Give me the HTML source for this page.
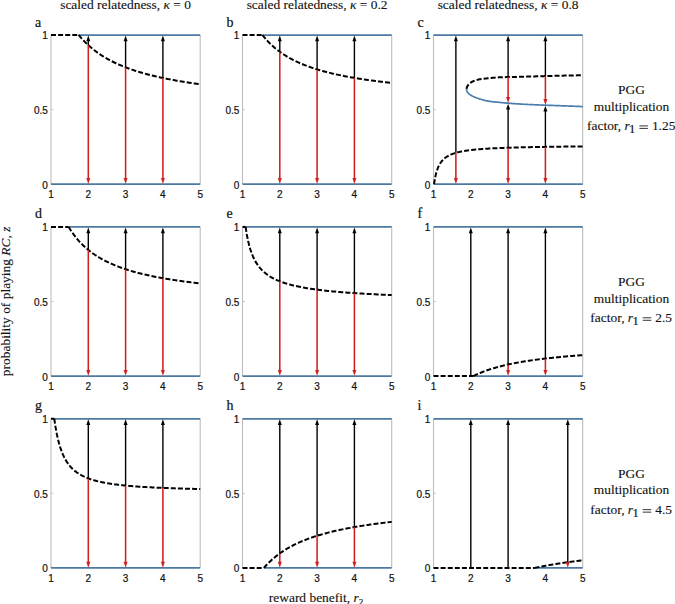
<!DOCTYPE html>
<html><head><meta charset="utf-8"><style>
html,body{margin:0;padding:0;background:#fff;}
body{width:675px;height:604px;overflow:hidden;}
svg{display:block;}
.tk{font-family:"Liberation Sans",sans-serif;font-size:10px;fill:#111;stroke:#111;stroke-width:0.2px;}
.tt{font-family:"Liberation Serif",serif;font-size:13.45px;fill:#111;stroke:#111;stroke-width:0.12px;}
.lt{font-family:"Liberation Serif",serif;font-size:14px;fill:#111;stroke:#111;stroke-width:0.2px;}
</style></head><body>
<svg width="675" height="604" viewBox="0 0 675 604">
<line x1="51.00" y1="35.00" x2="51.00" y2="184.20" stroke="#bdbdbd" stroke-width="1.1" stroke-linecap="butt"/>
<line x1="200.20" y1="35.00" x2="200.20" y2="184.20" stroke="#bdbdbd" stroke-width="1.1" stroke-linecap="butt"/>
<line x1="51.00" y1="109.60" x2="53.50" y2="109.60" stroke="#bbb" stroke-width="0.8" stroke-linecap="butt"/>
<line x1="51.00" y1="184.20" x2="200.20" y2="184.20" stroke="#4c78a2" stroke-width="1.75" stroke-linecap="butt"/>
<line x1="78.66" y1="35.00" x2="200.20" y2="35.00" stroke="#4c78a2" stroke-width="1.75" stroke-linecap="butt"/>
<line x1="51.00" y1="35.00" x2="78.66" y2="35.00" stroke="#000" stroke-width="2.0" stroke-dasharray="5.0 2.1" stroke-linecap="butt"/>
<path d="M78.66,35.00 L79.68,36.23 L80.70,37.43 L81.72,38.58 L82.75,39.70 L83.77,40.78 L84.79,41.83 L85.81,42.85 L86.83,43.83 L87.85,44.79 L88.87,45.72 L89.89,46.62 L90.92,47.50 L91.94,48.35 L92.96,49.18 L93.98,49.99 L95.00,50.77 L96.02,51.54 L97.04,52.28 L98.07,53.00 L99.09,53.71 L100.11,54.40 L101.13,55.07 L102.15,55.73 L103.17,56.37 L104.19,56.99 L105.22,57.60 L106.24,58.19 L107.26,58.77 L108.28,59.34 L109.30,59.90 L110.32,60.44 L111.34,60.97 L112.36,61.49 L113.39,62.00 L114.41,62.49 L115.43,62.98 L116.45,63.46 L117.47,63.92 L118.49,64.38 L119.51,64.83 L120.54,65.27 L121.56,65.70 L122.58,66.12 L123.60,66.53 L124.62,66.94 L125.64,67.33 L126.66,67.72 L127.68,68.11 L128.71,68.48 L129.73,68.85 L130.75,69.21 L131.77,69.57 L132.79,69.92 L133.81,70.26 L134.83,70.60 L135.86,70.93 L136.88,71.25 L137.90,71.57 L138.92,71.89 L139.94,72.19 L140.96,72.50 L141.98,72.80 L143.00,73.09 L144.03,73.38 L145.05,73.66 L146.07,73.94 L147.09,74.22 L148.11,74.49 L149.13,74.76 L150.15,75.02 L151.18,75.28 L152.20,75.53 L153.22,75.78 L154.24,76.03 L155.26,76.27 L156.28,76.51 L157.30,76.75 L158.32,76.98 L159.35,77.21 L160.37,77.44 L161.39,77.66 L162.41,77.88 L163.43,78.09 L164.45,78.31 L165.47,78.52 L166.50,78.72 L167.52,78.93 L168.54,79.13 L169.56,79.33 L170.58,79.53 L171.60,79.72 L172.62,79.91 L173.65,80.10 L174.67,80.29 L175.69,80.47 L176.71,80.65 L177.73,80.83 L178.75,81.01 L179.77,81.18 L180.79,81.35 L181.82,81.52 L182.84,81.69 L183.86,81.86 L184.88,82.02 L185.90,82.18 L186.92,82.34 L187.94,82.50 L188.97,82.66 L189.99,82.81 L191.01,82.96 L192.03,83.11 L193.05,83.26 L194.07,83.41 L195.09,83.56 L196.11,83.70 L197.14,83.84 L198.16,83.98 L199.18,84.12 L200.20,84.26" fill="none" stroke="#000" stroke-width="2.0" stroke-dasharray="5.0 2.1" stroke-linejoin="round"/>
<line x1="88.30" y1="45.20" x2="88.30" y2="178.90" stroke="#d02020" stroke-width="1.55" stroke-linecap="butt"/>
<path d="M88.30,183.90 L86.30,178.10 L90.30,178.10 Z" fill="#d02020"/>
<line x1="88.30" y1="45.20" x2="88.30" y2="40.50" stroke="#000" stroke-width="1.4" stroke-linecap="butt"/>
<path d="M88.30,35.50 L86.30,41.30 L90.30,41.30 Z" fill="#000"/>
<line x1="125.60" y1="67.32" x2="125.60" y2="178.90" stroke="#d02020" stroke-width="1.55" stroke-linecap="butt"/>
<path d="M125.60,183.90 L123.60,178.10 L127.60,178.10 Z" fill="#d02020"/>
<line x1="125.60" y1="67.32" x2="125.60" y2="40.50" stroke="#000" stroke-width="1.4" stroke-linecap="butt"/>
<path d="M125.60,35.50 L123.60,41.30 L127.60,41.30 Z" fill="#000"/>
<line x1="162.90" y1="77.98" x2="162.90" y2="178.90" stroke="#d02020" stroke-width="1.55" stroke-linecap="butt"/>
<path d="M162.90,183.90 L160.90,178.10 L164.90,178.10 Z" fill="#d02020"/>
<line x1="162.90" y1="77.98" x2="162.90" y2="40.50" stroke="#000" stroke-width="1.4" stroke-linecap="butt"/>
<path d="M162.90,35.50 L160.90,41.30 L164.90,41.30 Z" fill="#000"/>
<line x1="242.50" y1="35.00" x2="242.50" y2="184.20" stroke="#bdbdbd" stroke-width="1.1" stroke-linecap="butt"/>
<line x1="391.70" y1="35.00" x2="391.70" y2="184.20" stroke="#bdbdbd" stroke-width="1.1" stroke-linecap="butt"/>
<line x1="242.50" y1="109.60" x2="245.00" y2="109.60" stroke="#bbb" stroke-width="0.8" stroke-linecap="butt"/>
<line x1="242.50" y1="184.20" x2="391.70" y2="184.20" stroke="#4c78a2" stroke-width="1.75" stroke-linecap="butt"/>
<line x1="262.43" y1="35.00" x2="391.70" y2="35.00" stroke="#4c78a2" stroke-width="1.75" stroke-linecap="butt"/>
<line x1="242.50" y1="35.00" x2="262.43" y2="35.00" stroke="#000" stroke-width="2.0" stroke-dasharray="5.0 2.1" stroke-linecap="butt"/>
<path d="M262.43,35.00 L263.51,36.37 L264.60,37.69 L265.69,38.96 L266.77,40.17 L267.86,41.34 L268.95,42.47 L270.03,43.56 L271.12,44.61 L272.20,45.62 L273.29,46.59 L274.38,47.54 L275.46,48.45 L276.55,49.33 L277.64,50.18 L278.72,51.01 L279.81,51.81 L280.90,52.58 L281.98,53.34 L283.07,54.07 L284.15,54.77 L285.24,55.46 L286.33,56.13 L287.41,56.78 L288.50,57.41 L289.59,58.02 L290.67,58.62 L291.76,59.20 L292.85,59.77 L293.93,60.32 L295.02,60.86 L296.10,61.38 L297.19,61.89 L298.28,62.39 L299.36,62.88 L300.45,63.35 L301.54,63.81 L302.62,64.26 L303.71,64.71 L304.79,65.14 L305.88,65.56 L306.97,65.97 L308.05,66.37 L309.14,66.77 L310.23,67.15 L311.31,67.53 L312.40,67.90 L313.49,68.26 L314.57,68.61 L315.66,68.96 L316.74,69.30 L317.83,69.63 L318.92,69.96 L320.00,70.28 L321.09,70.59 L322.18,70.90 L323.26,71.20 L324.35,71.49 L325.43,71.78 L326.52,72.07 L327.61,72.35 L328.69,72.62 L329.78,72.89 L330.87,73.15 L331.95,73.41 L333.04,73.67 L334.13,73.92 L335.21,74.16 L336.30,74.41 L337.38,74.64 L338.47,74.88 L339.56,75.11 L340.64,75.33 L341.73,75.56 L342.82,75.77 L343.90,75.99 L344.99,76.20 L346.07,76.41 L347.16,76.61 L348.25,76.82 L349.33,77.01 L350.42,77.21 L351.51,77.40 L352.59,77.59 L353.68,77.78 L354.77,77.96 L355.85,78.14 L356.94,78.32 L358.02,78.50 L359.11,78.67 L360.20,78.84 L361.28,79.01 L362.37,79.17 L363.46,79.34 L364.54,79.50 L365.63,79.66 L366.71,79.81 L367.80,79.97 L368.89,80.12 L369.97,80.27 L371.06,80.42 L372.15,80.57 L373.23,80.71 L374.32,80.85 L375.41,80.99 L376.49,81.13 L377.58,81.27 L378.66,81.40 L379.75,81.54 L380.84,81.67 L381.92,81.80 L383.01,81.93 L384.10,82.05 L385.18,82.18 L386.27,82.30 L387.35,82.42 L388.44,82.55 L389.53,82.66 L390.61,82.78 L391.70,82.90" fill="none" stroke="#000" stroke-width="2.0" stroke-dasharray="5.0 2.1" stroke-linejoin="round"/>
<line x1="279.80" y1="51.80" x2="279.80" y2="178.90" stroke="#d02020" stroke-width="1.55" stroke-linecap="butt"/>
<path d="M279.80,183.90 L277.80,178.10 L281.80,178.10 Z" fill="#d02020"/>
<line x1="279.80" y1="51.80" x2="279.80" y2="40.50" stroke="#000" stroke-width="1.4" stroke-linecap="butt"/>
<path d="M279.80,35.50 L277.80,41.30 L281.80,41.30 Z" fill="#000"/>
<line x1="317.10" y1="69.41" x2="317.10" y2="178.90" stroke="#d02020" stroke-width="1.55" stroke-linecap="butt"/>
<path d="M317.10,183.90 L315.10,178.10 L319.10,178.10 Z" fill="#d02020"/>
<line x1="317.10" y1="69.41" x2="317.10" y2="40.50" stroke="#000" stroke-width="1.4" stroke-linecap="butt"/>
<path d="M317.10,35.50 L315.10,41.30 L319.10,41.30 Z" fill="#000"/>
<line x1="354.40" y1="77.90" x2="354.40" y2="178.90" stroke="#d02020" stroke-width="1.55" stroke-linecap="butt"/>
<path d="M354.40,183.90 L352.40,178.10 L356.40,178.10 Z" fill="#d02020"/>
<line x1="354.40" y1="77.90" x2="354.40" y2="40.50" stroke="#000" stroke-width="1.4" stroke-linecap="butt"/>
<path d="M354.40,35.50 L352.40,41.30 L356.40,41.30 Z" fill="#000"/>
<line x1="51.00" y1="226.90" x2="51.00" y2="376.10" stroke="#bdbdbd" stroke-width="1.1" stroke-linecap="butt"/>
<line x1="200.20" y1="226.90" x2="200.20" y2="376.10" stroke="#bdbdbd" stroke-width="1.1" stroke-linecap="butt"/>
<line x1="51.00" y1="301.50" x2="53.50" y2="301.50" stroke="#bbb" stroke-width="0.8" stroke-linecap="butt"/>
<line x1="51.00" y1="376.10" x2="200.20" y2="376.10" stroke="#4c78a2" stroke-width="1.75" stroke-linecap="butt"/>
<line x1="68.64" y1="226.90" x2="200.20" y2="226.90" stroke="#4c78a2" stroke-width="1.75" stroke-linecap="butt"/>
<line x1="51.00" y1="226.90" x2="68.64" y2="226.90" stroke="#000" stroke-width="2.0" stroke-dasharray="5.0 2.1" stroke-linecap="butt"/>
<path d="M68.64,226.90 L69.75,228.71 L70.85,230.44 L71.96,232.09 L73.06,233.66 L74.17,235.17 L75.28,236.61 L76.38,237.99 L77.49,239.31 L78.59,240.59 L79.70,241.81 L80.80,242.98 L81.91,244.11 L83.01,245.20 L84.12,246.25 L85.22,247.26 L86.33,248.24 L87.44,249.18 L88.54,250.09 L89.65,250.97 L90.75,251.82 L91.86,252.65 L92.96,253.45 L94.07,254.22 L95.17,254.97 L96.28,255.69 L97.39,256.40 L98.49,257.08 L99.60,257.74 L100.70,258.39 L101.81,259.02 L102.91,259.62 L104.02,260.22 L105.12,260.79 L106.23,261.35 L107.34,261.90 L108.44,262.43 L109.55,262.95 L110.65,263.46 L111.76,263.95 L112.86,264.43 L113.97,264.90 L115.07,265.35 L116.18,265.80 L117.29,266.24 L118.39,266.66 L119.50,267.08 L120.60,267.49 L121.71,267.88 L122.81,268.27 L123.92,268.65 L125.02,269.02 L126.13,269.39 L127.23,269.74 L128.34,270.09 L129.45,270.43 L130.55,270.77 L131.66,271.09 L132.76,271.42 L133.87,271.73 L134.97,272.04 L136.08,272.34 L137.18,272.64 L138.29,272.93 L139.40,273.21 L140.50,273.49 L141.61,273.77 L142.71,274.03 L143.82,274.30 L144.92,274.56 L146.03,274.81 L147.13,275.06 L148.24,275.31 L149.35,275.55 L150.45,275.79 L151.56,276.02 L152.66,276.25 L153.77,276.48 L154.87,276.70 L155.98,276.92 L157.08,277.13 L158.19,277.34 L159.30,277.55 L160.40,277.75 L161.51,277.95 L162.61,278.15 L163.72,278.34 L164.82,278.54 L165.93,278.72 L167.03,278.91 L168.14,279.09 L169.25,279.27 L170.35,279.45 L171.46,279.62 L172.56,279.80 L173.67,279.97 L174.77,280.13 L175.88,280.30 L176.98,280.46 L178.09,280.62 L179.19,280.78 L180.30,280.93 L181.41,281.09 L182.51,281.24 L183.62,281.39 L184.72,281.53 L185.83,281.68 L186.93,281.82 L188.04,281.96 L189.14,282.10 L190.25,282.24 L191.36,282.37 L192.46,282.51 L193.57,282.64 L194.67,282.77 L195.78,282.90 L196.88,283.03 L197.99,283.15 L199.09,283.27 L200.20,283.40" fill="none" stroke="#000" stroke-width="2.0" stroke-dasharray="5.0 2.1" stroke-linejoin="round"/>
<line x1="88.30" y1="249.90" x2="88.30" y2="370.80" stroke="#d02020" stroke-width="1.55" stroke-linecap="butt"/>
<path d="M88.30,375.80 L86.30,370.00 L90.30,370.00 Z" fill="#d02020"/>
<line x1="88.30" y1="249.90" x2="88.30" y2="232.40" stroke="#000" stroke-width="1.4" stroke-linecap="butt"/>
<path d="M88.30,227.40 L86.30,233.20 L90.30,233.20 Z" fill="#000"/>
<line x1="125.60" y1="269.21" x2="125.60" y2="370.80" stroke="#d02020" stroke-width="1.55" stroke-linecap="butt"/>
<path d="M125.60,375.80 L123.60,370.00 L127.60,370.00 Z" fill="#d02020"/>
<line x1="125.60" y1="269.21" x2="125.60" y2="232.40" stroke="#000" stroke-width="1.4" stroke-linecap="butt"/>
<path d="M125.60,227.40 L123.60,233.20 L127.60,233.20 Z" fill="#000"/>
<line x1="162.90" y1="278.20" x2="162.90" y2="370.80" stroke="#d02020" stroke-width="1.55" stroke-linecap="butt"/>
<path d="M162.90,375.80 L160.90,370.00 L164.90,370.00 Z" fill="#d02020"/>
<line x1="162.90" y1="278.20" x2="162.90" y2="232.40" stroke="#000" stroke-width="1.4" stroke-linecap="butt"/>
<path d="M162.90,227.40 L160.90,233.20 L164.90,233.20 Z" fill="#000"/>
<line x1="242.50" y1="226.90" x2="242.50" y2="376.10" stroke="#bdbdbd" stroke-width="1.1" stroke-linecap="butt"/>
<line x1="391.70" y1="226.90" x2="391.70" y2="376.10" stroke="#bdbdbd" stroke-width="1.1" stroke-linecap="butt"/>
<line x1="242.50" y1="301.50" x2="245.00" y2="301.50" stroke="#bbb" stroke-width="0.8" stroke-linecap="butt"/>
<line x1="242.50" y1="376.10" x2="391.70" y2="376.10" stroke="#4c78a2" stroke-width="1.75" stroke-linecap="butt"/>
<line x1="245.60" y1="226.90" x2="391.70" y2="226.90" stroke="#4c78a2" stroke-width="1.75" stroke-linecap="butt"/>
<line x1="242.50" y1="226.90" x2="245.60" y2="226.90" stroke="#000" stroke-width="2.0" stroke-dasharray="5.0 2.1" stroke-linecap="butt"/>
<path d="M245.60,226.90 L246.83,234.68 L248.06,240.83 L249.29,245.82 L250.51,249.96 L251.74,253.46 L252.97,256.47 L254.20,259.08 L255.42,261.38 L256.65,263.41 L257.88,265.23 L259.11,266.86 L260.33,268.34 L261.56,269.69 L262.79,270.92 L264.02,272.05 L265.25,273.10 L266.47,274.06 L267.70,274.96 L268.93,275.79 L270.16,276.57 L271.38,277.30 L272.61,277.99 L273.84,278.63 L275.07,279.24 L276.29,279.81 L277.52,280.36 L278.75,280.87 L279.98,281.36 L281.21,281.83 L282.43,282.27 L283.66,282.69 L284.89,283.09 L286.12,283.48 L287.34,283.85 L288.57,284.20 L289.80,284.54 L291.03,284.87 L292.26,285.18 L293.48,285.48 L294.71,285.77 L295.94,286.05 L297.17,286.32 L298.39,286.57 L299.62,286.82 L300.85,287.07 L302.08,287.30 L303.30,287.53 L304.53,287.75 L305.76,287.96 L306.99,288.16 L308.22,288.36 L309.44,288.56 L310.67,288.75 L311.90,288.93 L313.13,289.11 L314.35,289.28 L315.58,289.45 L316.81,289.61 L318.04,289.77 L319.26,289.92 L320.49,290.07 L321.72,290.22 L322.95,290.36 L324.18,290.50 L325.40,290.64 L326.63,290.77 L327.86,290.90 L329.09,291.03 L330.31,291.15 L331.54,291.27 L332.77,291.39 L334.00,291.51 L335.23,291.62 L336.45,291.73 L337.68,291.84 L338.91,291.95 L340.14,292.05 L341.36,292.15 L342.59,292.25 L343.82,292.35 L345.05,292.45 L346.27,292.54 L347.50,292.63 L348.73,292.72 L349.96,292.81 L351.19,292.90 L352.41,292.99 L353.64,293.07 L354.87,293.15 L356.10,293.23 L357.32,293.31 L358.55,293.39 L359.78,293.47 L361.01,293.54 L362.23,293.62 L363.46,293.69 L364.69,293.76 L365.92,293.83 L367.15,293.90 L368.37,293.97 L369.60,294.04 L370.83,294.10 L372.06,294.17 L373.28,294.23 L374.51,294.29 L375.74,294.35 L376.97,294.42 L378.20,294.48 L379.42,294.53 L380.65,294.59 L381.88,294.65 L383.11,294.71 L384.33,294.76 L385.56,294.82 L386.79,294.87 L388.02,294.93 L389.24,294.98 L390.47,295.03 L391.70,295.08" fill="none" stroke="#000" stroke-width="2.0" stroke-dasharray="5.0 2.1" stroke-linejoin="round"/>
<line x1="279.80" y1="281.29" x2="279.80" y2="370.80" stroke="#d02020" stroke-width="1.55" stroke-linecap="butt"/>
<path d="M279.80,375.80 L277.80,370.00 L281.80,370.00 Z" fill="#d02020"/>
<line x1="279.80" y1="281.29" x2="279.80" y2="232.40" stroke="#000" stroke-width="1.4" stroke-linecap="butt"/>
<path d="M279.80,227.40 L277.80,233.20 L281.80,233.20 Z" fill="#000"/>
<line x1="317.10" y1="289.65" x2="317.10" y2="370.80" stroke="#d02020" stroke-width="1.55" stroke-linecap="butt"/>
<path d="M317.10,375.80 L315.10,370.00 L319.10,370.00 Z" fill="#d02020"/>
<line x1="317.10" y1="289.65" x2="317.10" y2="232.40" stroke="#000" stroke-width="1.4" stroke-linecap="butt"/>
<path d="M317.10,227.40 L315.10,233.20 L319.10,233.20 Z" fill="#000"/>
<line x1="354.40" y1="293.12" x2="354.40" y2="370.80" stroke="#d02020" stroke-width="1.55" stroke-linecap="butt"/>
<path d="M354.40,375.80 L352.40,370.00 L356.40,370.00 Z" fill="#d02020"/>
<line x1="354.40" y1="293.12" x2="354.40" y2="232.40" stroke="#000" stroke-width="1.4" stroke-linecap="butt"/>
<path d="M354.40,227.40 L352.40,233.20 L356.40,233.20 Z" fill="#000"/>
<line x1="51.00" y1="418.75" x2="51.00" y2="567.95" stroke="#bdbdbd" stroke-width="1.1" stroke-linecap="butt"/>
<line x1="200.20" y1="418.75" x2="200.20" y2="567.95" stroke="#bdbdbd" stroke-width="1.1" stroke-linecap="butt"/>
<line x1="51.00" y1="493.35" x2="53.50" y2="493.35" stroke="#bbb" stroke-width="0.8" stroke-linecap="butt"/>
<line x1="51.00" y1="567.95" x2="200.20" y2="567.95" stroke="#4c78a2" stroke-width="1.75" stroke-linecap="butt"/>
<line x1="54.26" y1="418.75" x2="200.20" y2="418.75" stroke="#4c78a2" stroke-width="1.75" stroke-linecap="butt"/>
<line x1="51.00" y1="418.75" x2="54.26" y2="418.75" stroke="#000" stroke-width="2.0" stroke-dasharray="5.0 2.1" stroke-linecap="butt"/>
<path d="M54.26,418.75 L55.49,426.91 L56.71,433.60 L57.94,439.17 L59.17,443.87 L60.39,447.88 L61.62,451.34 L62.85,454.34 L64.07,456.98 L65.30,459.31 L66.52,461.37 L67.75,463.22 L68.98,464.88 L70.20,466.37 L71.43,467.73 L72.66,468.96 L73.88,470.09 L75.11,471.12 L76.34,472.07 L77.56,472.95 L78.79,473.76 L80.01,474.51 L81.24,475.20 L82.47,475.85 L83.69,476.46 L84.92,477.02 L86.15,477.55 L87.37,478.05 L88.60,478.52 L89.83,478.96 L91.05,479.37 L92.28,479.76 L93.50,480.13 L94.73,480.48 L95.96,480.82 L97.18,481.13 L98.41,481.43 L99.64,481.72 L100.86,481.99 L102.09,482.25 L103.32,482.49 L104.54,482.73 L105.77,482.95 L107.00,483.17 L108.22,483.38 L109.45,483.57 L110.67,483.76 L111.90,483.94 L113.13,484.12 L114.35,484.29 L115.58,484.45 L116.81,484.60 L118.03,484.75 L119.26,484.90 L120.49,485.04 L121.71,485.17 L122.94,485.30 L124.16,485.42 L125.39,485.54 L126.62,485.66 L127.84,485.77 L129.07,485.88 L130.30,485.99 L131.52,486.09 L132.75,486.19 L133.98,486.29 L135.20,486.38 L136.43,486.47 L137.65,486.56 L138.88,486.64 L140.11,486.72 L141.33,486.80 L142.56,486.88 L143.79,486.96 L145.01,487.03 L146.24,487.10 L147.47,487.17 L148.69,487.24 L149.92,487.31 L151.14,487.37 L152.37,487.43 L153.60,487.50 L154.82,487.55 L156.05,487.61 L157.28,487.67 L158.50,487.72 L159.73,487.78 L160.96,487.83 L162.18,487.88 L163.41,487.93 L164.63,487.98 L165.86,488.03 L167.09,488.08 L168.31,488.12 L169.54,488.17 L170.77,488.21 L171.99,488.25 L173.22,488.30 L174.45,488.34 L175.67,488.38 L176.90,488.42 L178.13,488.45 L179.35,488.49 L180.58,488.53 L181.80,488.56 L183.03,488.60 L184.26,488.63 L185.48,488.67 L186.71,488.70 L187.94,488.73 L189.16,488.77 L190.39,488.80 L191.62,488.83 L192.84,488.86 L194.07,488.89 L195.29,488.92 L196.52,488.95 L197.75,488.97 L198.97,489.00 L200.20,489.03" fill="none" stroke="#000" stroke-width="2.0" stroke-dasharray="5.0 2.1" stroke-linejoin="round"/>
<line x1="88.30" y1="478.40" x2="88.30" y2="562.65" stroke="#d02020" stroke-width="1.55" stroke-linecap="butt"/>
<path d="M88.30,567.65 L86.30,561.85 L90.30,561.85 Z" fill="#d02020"/>
<line x1="88.30" y1="478.40" x2="88.30" y2="424.25" stroke="#000" stroke-width="1.4" stroke-linecap="butt"/>
<path d="M88.30,419.25 L86.30,425.05 L90.30,425.05 Z" fill="#000"/>
<line x1="125.60" y1="485.56" x2="125.60" y2="562.65" stroke="#d02020" stroke-width="1.55" stroke-linecap="butt"/>
<path d="M125.60,567.65 L123.60,561.85 L127.60,561.85 Z" fill="#d02020"/>
<line x1="125.60" y1="485.56" x2="125.60" y2="424.25" stroke="#000" stroke-width="1.4" stroke-linecap="butt"/>
<path d="M125.60,419.25 L123.60,425.05 L127.60,425.05 Z" fill="#000"/>
<line x1="162.90" y1="487.91" x2="162.90" y2="562.65" stroke="#d02020" stroke-width="1.55" stroke-linecap="butt"/>
<path d="M162.90,567.65 L160.90,561.85 L164.90,561.85 Z" fill="#d02020"/>
<line x1="162.90" y1="487.91" x2="162.90" y2="424.25" stroke="#000" stroke-width="1.4" stroke-linecap="butt"/>
<path d="M162.90,419.25 L160.90,425.05 L164.90,425.05 Z" fill="#000"/>
<line x1="433.50" y1="226.90" x2="433.50" y2="376.10" stroke="#bdbdbd" stroke-width="1.1" stroke-linecap="butt"/>
<line x1="582.70" y1="226.90" x2="582.70" y2="376.10" stroke="#bdbdbd" stroke-width="1.1" stroke-linecap="butt"/>
<line x1="433.50" y1="301.50" x2="436.00" y2="301.50" stroke="#bbb" stroke-width="0.8" stroke-linecap="butt"/>
<line x1="433.50" y1="226.90" x2="582.70" y2="226.90" stroke="#4c78a2" stroke-width="1.75" stroke-linecap="butt"/>
<line x1="473.34" y1="376.10" x2="582.70" y2="376.10" stroke="#4c78a2" stroke-width="1.75" stroke-linecap="butt"/>
<line x1="433.50" y1="376.10" x2="473.34" y2="376.10" stroke="#000" stroke-width="2.0" stroke-dasharray="5.0 2.1" stroke-linecap="butt"/>
<path d="M473.34,376.10 L474.26,375.64 L475.17,375.19 L476.09,374.75 L477.01,374.32 L477.93,373.91 L478.85,373.50 L479.77,373.11 L480.69,372.73 L481.61,372.35 L482.53,371.99 L483.45,371.63 L484.36,371.28 L485.28,370.94 L486.20,370.61 L487.12,370.28 L488.04,369.97 L488.96,369.66 L489.88,369.35 L490.80,369.06 L491.72,368.77 L492.64,368.49 L493.56,368.21 L494.47,367.94 L495.39,367.67 L496.31,367.41 L497.23,367.16 L498.15,366.91 L499.07,366.66 L499.99,366.42 L500.91,366.19 L501.83,365.96 L502.75,365.73 L503.66,365.51 L504.58,365.29 L505.50,365.08 L506.42,364.87 L507.34,364.66 L508.26,364.46 L509.18,364.26 L510.10,364.07 L511.02,363.87 L511.94,363.69 L512.85,363.50 L513.77,363.32 L514.69,363.14 L515.61,362.97 L516.53,362.79 L517.45,362.62 L518.37,362.46 L519.29,362.29 L520.21,362.13 L521.13,361.97 L522.04,361.82 L522.96,361.66 L523.88,361.51 L524.80,361.36 L525.72,361.22 L526.64,361.07 L527.56,360.93 L528.48,360.79 L529.40,360.65 L530.32,360.52 L531.23,360.38 L532.15,360.25 L533.07,360.12 L533.99,360.00 L534.91,359.87 L535.83,359.75 L536.75,359.62 L537.67,359.50 L538.59,359.38 L539.51,359.27 L540.43,359.15 L541.34,359.04 L542.26,358.92 L543.18,358.81 L544.10,358.70 L545.02,358.59 L545.94,358.49 L546.86,358.38 L547.78,358.28 L548.70,358.18 L549.62,358.07 L550.53,357.97 L551.45,357.88 L552.37,357.78 L553.29,357.68 L554.21,357.59 L555.13,357.49 L556.05,357.40 L556.97,357.31 L557.89,357.22 L558.81,357.13 L559.72,357.04 L560.64,356.95 L561.56,356.87 L562.48,356.78 L563.40,356.70 L564.32,356.62 L565.24,356.53 L566.16,356.45 L567.08,356.37 L568.00,356.29 L568.91,356.21 L569.83,356.14 L570.75,356.06 L571.67,355.98 L572.59,355.91 L573.51,355.84 L574.43,355.76 L575.35,355.69 L576.27,355.62 L577.19,355.55 L578.10,355.48 L579.02,355.41 L579.94,355.34 L580.86,355.27 L581.78,355.20 L582.70,355.14" fill="none" stroke="#000" stroke-width="2.0" stroke-dasharray="5.0 2.1" stroke-linejoin="round"/>
<line x1="470.80" y1="376.10" x2="470.80" y2="232.40" stroke="#000" stroke-width="1.4" stroke-linecap="butt"/>
<path d="M470.80,227.40 L468.80,233.20 L472.80,233.20 Z" fill="#000"/>
<line x1="508.10" y1="364.49" x2="508.10" y2="370.80" stroke="#d02020" stroke-width="1.55" stroke-linecap="butt"/>
<path d="M508.10,375.80 L506.10,370.00 L510.10,370.00 Z" fill="#d02020"/>
<line x1="508.10" y1="364.49" x2="508.10" y2="232.40" stroke="#000" stroke-width="1.4" stroke-linecap="butt"/>
<path d="M508.10,227.40 L506.10,233.20 L510.10,233.20 Z" fill="#000"/>
<line x1="545.40" y1="358.55" x2="545.40" y2="370.80" stroke="#d02020" stroke-width="1.55" stroke-linecap="butt"/>
<path d="M545.40,375.80 L543.40,370.00 L547.40,370.00 Z" fill="#d02020"/>
<line x1="545.40" y1="358.55" x2="545.40" y2="232.40" stroke="#000" stroke-width="1.4" stroke-linecap="butt"/>
<path d="M545.40,227.40 L543.40,233.20 L547.40,233.20 Z" fill="#000"/>
<line x1="242.50" y1="418.75" x2="242.50" y2="567.95" stroke="#bdbdbd" stroke-width="1.1" stroke-linecap="butt"/>
<line x1="391.70" y1="418.75" x2="391.70" y2="567.95" stroke="#bdbdbd" stroke-width="1.1" stroke-linecap="butt"/>
<line x1="242.50" y1="493.35" x2="245.00" y2="493.35" stroke="#bbb" stroke-width="0.8" stroke-linecap="butt"/>
<line x1="242.50" y1="418.75" x2="391.70" y2="418.75" stroke="#4c78a2" stroke-width="1.75" stroke-linecap="butt"/>
<line x1="263.85" y1="567.95" x2="391.70" y2="567.95" stroke="#4c78a2" stroke-width="1.75" stroke-linecap="butt"/>
<line x1="242.50" y1="567.95" x2="263.85" y2="567.95" stroke="#000" stroke-width="2.0" stroke-dasharray="5.0 2.1" stroke-linecap="butt"/>
<path d="M263.85,567.95 L264.93,566.72 L266.00,565.53 L267.08,564.39 L268.15,563.28 L269.23,562.22 L270.30,561.19 L271.37,560.19 L272.45,559.23 L273.52,558.30 L274.60,557.40 L275.67,556.52 L276.75,555.67 L277.82,554.85 L278.89,554.05 L279.97,553.28 L281.04,552.53 L282.12,551.80 L283.19,551.09 L284.27,550.40 L285.34,549.73 L286.41,549.07 L287.49,548.44 L288.56,547.82 L289.64,547.22 L290.71,546.63 L291.79,546.06 L292.86,545.50 L293.94,544.95 L295.01,544.42 L296.08,543.90 L297.16,543.40 L298.23,542.90 L299.31,542.42 L300.38,541.95 L301.46,541.49 L302.53,541.04 L303.60,540.59 L304.68,540.16 L305.75,539.74 L306.83,539.33 L307.90,538.93 L308.98,538.53 L310.05,538.14 L311.12,537.76 L312.20,537.39 L313.27,537.03 L314.35,536.67 L315.42,536.32 L316.50,535.98 L317.57,535.64 L318.64,535.31 L319.72,534.99 L320.79,534.67 L321.87,534.36 L322.94,534.05 L324.02,533.75 L325.09,533.46 L326.17,533.17 L327.24,532.89 L328.31,532.61 L329.39,532.33 L330.46,532.06 L331.54,531.80 L332.61,531.54 L333.69,531.28 L334.76,531.03 L335.83,530.78 L336.91,530.54 L337.98,530.30 L339.06,530.07 L340.13,529.83 L341.21,529.61 L342.28,529.38 L343.35,529.16 L344.43,528.94 L345.50,528.73 L346.58,528.52 L347.65,528.31 L348.73,528.11 L349.80,527.91 L350.88,527.71 L351.95,527.51 L353.02,527.32 L354.10,527.13 L355.17,526.94 L356.25,526.76 L357.32,526.58 L358.40,526.40 L359.47,526.22 L360.54,526.05 L361.62,525.88 L362.69,525.71 L363.77,525.54 L364.84,525.37 L365.92,525.21 L366.99,525.05 L368.06,524.89 L369.14,524.74 L370.21,524.58 L371.29,524.43 L372.36,524.28 L373.44,524.13 L374.51,523.99 L375.58,523.84 L376.66,523.70 L377.73,523.56 L378.81,523.42 L379.88,523.28 L380.96,523.15 L382.03,523.01 L383.11,522.88 L384.18,522.75 L385.25,522.62 L386.33,522.49 L387.40,522.37 L388.48,522.24 L389.55,522.12 L390.63,522.00 L391.70,521.88" fill="none" stroke="#000" stroke-width="2.0" stroke-dasharray="5.0 2.1" stroke-linejoin="round"/>
<line x1="279.80" y1="553.40" x2="279.80" y2="562.65" stroke="#d02020" stroke-width="1.55" stroke-linecap="butt"/>
<path d="M279.80,567.65 L277.80,561.85 L281.80,561.85 Z" fill="#d02020"/>
<line x1="279.80" y1="553.40" x2="279.80" y2="424.25" stroke="#000" stroke-width="1.4" stroke-linecap="butt"/>
<path d="M279.80,419.25 L277.80,425.05 L281.80,425.05 Z" fill="#000"/>
<line x1="317.10" y1="535.79" x2="317.10" y2="562.65" stroke="#d02020" stroke-width="1.55" stroke-linecap="butt"/>
<path d="M317.10,567.65 L315.10,561.85 L319.10,561.85 Z" fill="#d02020"/>
<line x1="317.10" y1="535.79" x2="317.10" y2="424.25" stroke="#000" stroke-width="1.4" stroke-linecap="butt"/>
<path d="M317.10,419.25 L315.10,425.05 L319.10,425.05 Z" fill="#000"/>
<line x1="354.40" y1="527.08" x2="354.40" y2="562.65" stroke="#d02020" stroke-width="1.55" stroke-linecap="butt"/>
<path d="M354.40,567.65 L352.40,561.85 L356.40,561.85 Z" fill="#d02020"/>
<line x1="354.40" y1="527.08" x2="354.40" y2="424.25" stroke="#000" stroke-width="1.4" stroke-linecap="butt"/>
<path d="M354.40,419.25 L352.40,425.05 L356.40,425.05 Z" fill="#000"/>
<line x1="433.50" y1="418.75" x2="433.50" y2="567.95" stroke="#bdbdbd" stroke-width="1.1" stroke-linecap="butt"/>
<line x1="582.70" y1="418.75" x2="582.70" y2="567.95" stroke="#bdbdbd" stroke-width="1.1" stroke-linecap="butt"/>
<line x1="433.50" y1="493.35" x2="436.00" y2="493.35" stroke="#bbb" stroke-width="0.8" stroke-linecap="butt"/>
<line x1="433.50" y1="418.75" x2="582.70" y2="418.75" stroke="#4c78a2" stroke-width="1.75" stroke-linecap="butt"/>
<line x1="534.47" y1="567.95" x2="582.70" y2="567.95" stroke="#4c78a2" stroke-width="1.75" stroke-linecap="butt"/>
<line x1="433.50" y1="567.95" x2="534.47" y2="567.95" stroke="#000" stroke-width="2.0" stroke-dasharray="5.0 2.1" stroke-linecap="butt"/>
<path d="M534.47,567.95 L534.88,567.86 L535.28,567.78 L535.69,567.69 L536.09,567.61 L536.50,567.52 L536.91,567.44 L537.31,567.36 L537.72,567.27 L538.12,567.19 L538.53,567.11 L538.93,567.03 L539.34,566.95 L539.74,566.87 L540.15,566.79 L540.55,566.71 L540.96,566.63 L541.36,566.55 L541.77,566.47 L542.17,566.39 L542.58,566.31 L542.98,566.24 L543.39,566.16 L543.79,566.08 L544.20,566.01 L544.61,565.93 L545.01,565.86 L545.42,565.78 L545.82,565.71 L546.23,565.64 L546.63,565.56 L547.04,565.49 L547.44,565.42 L547.85,565.34 L548.25,565.27 L548.66,565.20 L549.06,565.13 L549.47,565.06 L549.87,564.99 L550.28,564.92 L550.68,564.85 L551.09,564.78 L551.49,564.71 L551.90,564.64 L552.31,564.58 L552.71,564.51 L553.12,564.44 L553.52,564.37 L553.93,564.31 L554.33,564.24 L554.74,564.17 L555.14,564.11 L555.55,564.04 L555.95,563.98 L556.36,563.91 L556.76,563.85 L557.17,563.78 L557.57,563.72 L557.98,563.66 L558.38,563.59 L558.79,563.53 L559.19,563.47 L559.60,563.41 L560.01,563.35 L560.41,563.28 L560.82,563.22 L561.22,563.16 L561.63,563.10 L562.03,563.04 L562.44,562.98 L562.84,562.92 L563.25,562.86 L563.65,562.80 L564.06,562.74 L564.46,562.68 L564.87,562.63 L565.27,562.57 L565.68,562.51 L566.08,562.45 L566.49,562.40 L566.89,562.34 L567.30,562.28 L567.71,562.23 L568.11,562.17 L568.52,562.11 L568.92,562.06 L569.33,562.00 L569.73,561.95 L570.14,561.89 L570.54,561.84 L570.95,561.78 L571.35,561.73 L571.76,561.68 L572.16,561.62 L572.57,561.57 L572.97,561.52 L573.38,561.46 L573.78,561.41 L574.19,561.36 L574.59,561.31 L575.00,561.25 L575.41,561.20 L575.81,561.15 L576.22,561.10 L576.62,561.05 L577.03,561.00 L577.43,560.95 L577.84,560.90 L578.24,560.85 L578.65,560.80 L579.05,560.75 L579.46,560.70 L579.86,560.65 L580.27,560.60 L580.67,560.55 L581.08,560.50 L581.48,560.45 L581.89,560.41 L582.29,560.36 L582.70,560.31" fill="none" stroke="#000" stroke-width="2.0" stroke-dasharray="5.0 2.1" stroke-linejoin="round"/>
<line x1="470.80" y1="567.95" x2="470.80" y2="424.25" stroke="#000" stroke-width="1.4" stroke-linecap="butt"/>
<path d="M470.80,419.25 L468.80,425.05 L472.80,425.05 Z" fill="#000"/>
<line x1="508.10" y1="567.95" x2="508.10" y2="424.25" stroke="#000" stroke-width="1.4" stroke-linecap="butt"/>
<path d="M508.10,419.25 L506.10,425.05 L510.10,425.05 Z" fill="#000"/>
<line x1="567.78" y1="562.22" x2="567.78" y2="562.65" stroke="#d02020" stroke-width="1.55" stroke-linecap="butt"/>
<path d="M567.78,567.65 L565.78,561.85 L569.78,561.85 Z" fill="#d02020"/>
<line x1="567.78" y1="562.22" x2="567.78" y2="424.25" stroke="#000" stroke-width="1.4" stroke-linecap="butt"/>
<path d="M567.78,419.25 L565.78,425.05 L569.78,425.05 Z" fill="#000"/>
<line x1="433.50" y1="35.00" x2="433.50" y2="184.20" stroke="#bdbdbd" stroke-width="1.1" stroke-linecap="butt"/>
<line x1="582.70" y1="35.00" x2="582.70" y2="184.20" stroke="#bdbdbd" stroke-width="1.1" stroke-linecap="butt"/>
<line x1="433.50" y1="109.60" x2="436.00" y2="109.60" stroke="#bbb" stroke-width="0.8" stroke-linecap="butt"/>
<line x1="433.50" y1="35.00" x2="582.70" y2="35.00" stroke="#4c78a2" stroke-width="1.75" stroke-linecap="butt"/>
<line x1="433.50" y1="184.20" x2="582.70" y2="184.20" stroke="#4c78a2" stroke-width="1.75" stroke-linecap="butt"/>
<path d="M434.04,184.20 L434.79,179.46 L435.53,175.74 L436.28,172.75 L437.03,170.29 L437.78,168.23 L438.52,166.48 L439.27,164.98 L440.02,163.67 L440.76,162.52 L441.51,161.51 L442.26,160.61 L443.01,159.80 L443.75,159.07 L444.50,158.41 L445.25,157.81 L445.99,157.26 L446.74,156.76 L447.49,156.30 L448.23,155.87 L448.98,155.47 L449.73,155.10 L450.48,154.76 L451.22,154.44 L451.97,154.14 L452.72,153.86 L453.46,153.59 L454.21,153.34 L454.96,153.11 L455.70,152.88 L456.45,152.67 L457.20,152.48 L457.95,152.29 L458.69,152.11 L459.44,151.94 L460.19,151.77 L460.93,151.62 L461.68,151.47 L462.43,151.33 L463.17,151.19 L463.92,151.06 L464.67,150.94 L465.42,150.82 L466.16,150.70 L466.91,150.59 L467.66,150.49 L468.40,150.38 L469.15,150.29 L469.90,150.19 L470.65,150.10 L471.39,150.01 L472.14,149.93 L472.89,149.84 L473.63,149.76 L474.38,149.69 L475.13,149.61 L475.87,149.54 L476.62,149.47 L477.37,149.40 L478.12,149.34 L478.86,149.27 L479.61,149.21 L480.36,149.15 L481.10,149.09 L481.85,149.04 L482.60,148.98 L483.34,148.93 L484.09,148.88 L484.84,148.82 L485.59,148.78 L486.33,148.73 L487.08,148.68 L487.83,148.63 L488.57,148.59 L489.32,148.55 L490.07,148.50 L490.82,148.46 L491.56,148.42 L492.31,148.38 L493.06,148.34 L493.80,148.31 L494.55,148.27 L495.30,148.23 L496.04,148.20 L496.79,148.16 L497.54,148.13 L498.29,148.10 L499.03,148.06 L499.78,148.03 L500.53,148.00 L501.27,147.97 L502.02,147.94 L502.77,147.91 L503.51,147.88 L504.26,147.86 L505.01,147.83 L505.76,147.80 L506.50,147.77 L507.25,147.75 L508.00,147.72 L508.74,147.70 L509.49,147.67 L510.24,147.65 L510.98,147.63 L511.73,147.60 L512.48,147.58 L513.23,147.56 L513.97,147.54 L514.72,147.51 L515.47,147.49 L516.21,147.47 L516.96,147.45 L517.71,147.43 L518.46,147.41 L519.20,147.39 L519.95,147.37 L520.70,147.35 L521.44,147.34 L522.19,147.32 L522.94,147.30 L523.68,147.28 L524.43,147.26 L525.18,147.25 L525.93,147.23 L526.67,147.21 L527.42,147.20 L528.17,147.18 L528.91,147.17 L529.66,147.15 L530.41,147.13 L531.15,147.12 L531.90,147.10 L532.65,147.09 L533.40,147.08 L534.14,147.06 L534.89,147.05 L535.64,147.03 L536.38,147.02 L537.13,147.01 L537.88,146.99 L538.63,146.98 L539.37,146.97 L540.12,146.95 L540.87,146.94 L541.61,146.93 L542.36,146.92 L543.11,146.90 L543.85,146.89 L544.60,146.88 L545.35,146.87 L546.10,146.86 L546.84,146.84 L547.59,146.83 L548.34,146.82 L549.08,146.81 L549.83,146.80 L550.58,146.79 L551.32,146.78 L552.07,146.77 L552.82,146.76 L553.57,146.75 L554.31,146.74 L555.06,146.73 L555.81,146.72 L556.55,146.71 L557.30,146.70 L558.05,146.69 L558.79,146.68 L559.54,146.67 L560.29,146.66 L561.04,146.65 L561.78,146.64 L562.53,146.63 L563.28,146.63 L564.02,146.62 L564.77,146.61 L565.52,146.60 L566.27,146.59 L567.01,146.58 L567.76,146.58 L568.51,146.57 L569.25,146.56 L570.00,146.55 L570.75,146.54 L571.49,146.54 L572.24,146.53 L572.99,146.52 L573.74,146.51 L574.48,146.50 L575.23,146.50 L575.98,146.49 L576.72,146.48 L577.47,146.48 L578.22,146.47 L578.96,146.46 L579.71,146.45 L580.46,146.45 L581.21,146.44 L581.95,146.43 L582.70,146.43" fill="none" stroke="#000" stroke-width="2.0" stroke-dasharray="5.0 2.1" stroke-linejoin="round"/>
<path d="M582.70,106.62 L581.89,106.58 L581.08,106.54 L580.27,106.51 L579.45,106.47 L578.64,106.44 L577.83,106.40 L577.02,106.37 L576.21,106.33 L575.40,106.30 L574.59,106.27 L573.77,106.24 L572.96,106.20 L572.15,106.17 L571.34,106.14 L570.53,106.11 L569.72,106.08 L568.90,106.05 L568.09,106.02 L567.28,105.99 L566.47,105.96 L565.66,105.93 L564.85,105.90 L564.04,105.87 L563.22,105.84 L562.41,105.81 L561.60,105.78 L560.79,105.75 L559.98,105.72 L559.17,105.69 L558.35,105.67 L557.54,105.64 L556.73,105.61 L555.92,105.58 L555.11,105.55 L554.30,105.52 L553.49,105.49 L552.67,105.46 L551.86,105.44 L551.05,105.41 L550.24,105.38 L549.43,105.35 L548.62,105.32 L547.80,105.29 L546.99,105.26 L546.18,105.23 L545.37,105.20 L544.56,105.17 L543.75,105.14 L542.94,105.10 L542.12,105.07 L541.31,105.04 L540.50,105.01 L539.69,104.98 L538.88,104.94 L538.07,104.91 L537.26,104.88 L536.44,104.84 L535.63,104.81 L534.82,104.77 L534.01,104.74 L533.20,104.70 L532.39,104.67 L531.58,104.63 L530.77,104.59 L529.95,104.55 L529.14,104.52 L528.33,104.48 L527.52,104.44 L526.71,104.40 L525.90,104.36 L525.09,104.31 L524.28,104.27 L523.46,104.23 L522.65,104.18 L521.84,104.14 L521.03,104.09 L520.22,104.05 L519.41,104.00 L518.60,103.95 L517.79,103.90 L516.98,103.85 L516.17,103.80 L515.36,103.74 L514.55,103.69 L513.74,103.63 L512.93,103.57 L512.12,103.51 L511.31,103.45 L510.50,103.39 L509.69,103.32 L508.88,103.25 L508.07,103.18 L507.26,103.11 L506.45,103.04 L505.64,102.96 L504.84,102.88 L504.03,102.81 L503.22,102.73 L502.41,102.65 L501.60,102.57 L500.79,102.50 L499.99,102.42 L499.18,102.34 L498.37,102.27 L497.56,102.20 L496.75,102.12 L495.94,102.05 L495.13,101.97 L494.32,101.90 L493.51,101.81 L492.71,101.73 L491.90,101.63 L491.09,101.53 L490.29,101.43 L489.49,101.31 L488.68,101.18 L487.88,101.04 L487.08,100.89 L486.29,100.73 L485.49,100.56 L484.70,100.37 L483.91,100.18 L483.12,99.98 L482.34,99.76 L481.55,99.54 L480.78,99.31 L480.00,99.07 L479.23,98.82 L478.46,98.56 L477.70,98.30 L476.94,98.02 L476.18,97.74 L475.43,97.43 L474.68,97.12 L473.94,96.79 L473.20,96.44 L472.47,96.07 L471.74,95.68 L471.02,95.27 L470.31,94.83 L469.63,94.36 L468.99,93.85 L468.40,93.29 L467.87,92.68 L467.41,92.00 L467.04,91.27 L466.77,90.48 L466.62,89.68 L466.59,88.86" fill="none" stroke="#4a7cae" stroke-width="1.7" stroke-linejoin="round"/>
<path d="M466.59,88.86 L466.69,88.06 L466.91,87.28 L467.24,86.53 L467.65,85.81 L468.13,85.13 L468.66,84.49 L469.23,83.90 L469.84,83.35 L470.47,82.85 L471.14,82.39 L471.83,81.97 L472.54,81.58 L473.26,81.22 L474.00,80.90 L474.76,80.61 L475.52,80.34 L476.30,80.10 L477.08,79.89 L477.87,79.69 L478.66,79.51 L479.45,79.35 L480.25,79.21 L481.05,79.07 L481.85,78.95 L482.65,78.85 L483.45,78.75 L484.25,78.66 L485.05,78.57 L485.86,78.49 L486.66,78.41 L487.46,78.34 L488.27,78.26 L489.07,78.18 L489.88,78.11 L490.68,78.03 L491.49,77.95 L492.29,77.87 L493.09,77.80 L493.90,77.73 L494.70,77.66 L495.51,77.59 L496.31,77.53 L497.12,77.47 L497.92,77.41 L498.73,77.36 L499.54,77.32 L500.34,77.28 L501.15,77.25 L501.96,77.22 L502.76,77.19 L503.57,77.17 L504.38,77.15 L505.19,77.13 L505.99,77.12 L506.80,77.10 L507.61,77.08 L508.42,77.07 L509.23,77.05 L510.03,77.04 L510.84,77.02 L511.65,77.00 L512.46,76.98 L513.26,76.97 L514.07,76.95 L514.88,76.93 L515.69,76.91 L516.49,76.89 L517.30,76.87 L518.11,76.85 L518.92,76.83 L519.72,76.81 L520.53,76.79 L521.34,76.77 L522.14,76.75 L522.95,76.73 L523.76,76.71 L524.57,76.69 L525.37,76.66 L526.18,76.64 L526.99,76.62 L527.80,76.60 L528.60,76.58 L529.41,76.55 L530.22,76.53 L531.02,76.51 L531.83,76.49 L532.64,76.46 L533.45,76.44 L534.25,76.42 L535.06,76.40 L535.87,76.37 L536.68,76.35 L537.48,76.33 L538.29,76.30 L539.10,76.28 L539.91,76.26 L540.71,76.24 L541.52,76.21 L542.33,76.19 L543.13,76.17 L543.94,76.15 L544.75,76.12 L545.56,76.10 L546.36,76.08 L547.17,76.06 L547.98,76.03 L548.79,76.01 L549.59,75.99 L550.40,75.97 L551.21,75.95 L552.02,75.92 L552.82,75.90 L553.63,75.88 L554.44,75.86 L555.25,75.84 L556.05,75.82 L556.86,75.80 L557.67,75.78 L558.48,75.76 L559.28,75.74 L560.09,75.72 L560.90,75.70 L561.71,75.68 L562.51,75.66 L563.32,75.64 L564.13,75.62 L564.94,75.60 L565.74,75.58 L566.55,75.57 L567.36,75.55 L568.17,75.53 L568.97,75.51 L569.78,75.50 L570.59,75.48 L571.39,75.47 L572.20,75.45 L573.01,75.44 L573.82,75.42 L574.62,75.41 L575.43,75.39 L576.24,75.38 L577.05,75.36 L577.85,75.35 L578.66,75.34 L579.47,75.33 L580.28,75.32 L581.08,75.30 L581.89,75.29 L582.70,75.28" fill="none" stroke="#000" stroke-width="2.0" stroke-dasharray="5.0 2.1" stroke-linejoin="round"/>
<line x1="455.88" y1="152.83" x2="455.88" y2="178.90" stroke="#d02020" stroke-width="1.55" stroke-linecap="butt"/>
<path d="M455.88,183.90 L453.88,178.10 L457.88,178.10 Z" fill="#d02020"/>
<line x1="455.88" y1="152.83" x2="455.88" y2="40.50" stroke="#000" stroke-width="1.4" stroke-linecap="butt"/>
<path d="M455.88,35.50 L453.88,41.30 L457.88,41.30 Z" fill="#000"/>
<line x1="508.10" y1="147.72" x2="508.10" y2="178.90" stroke="#d02020" stroke-width="1.55" stroke-linecap="butt"/>
<path d="M508.10,183.90 L506.10,178.10 L510.10,178.10 Z" fill="#d02020"/>
<line x1="508.10" y1="147.72" x2="508.10" y2="108.68" stroke="#000" stroke-width="1.4" stroke-linecap="butt"/>
<path d="M508.10,103.68 L506.10,109.48 L510.10,109.48 Z" fill="#000"/>
<line x1="508.10" y1="77.07" x2="508.10" y2="97.88" stroke="#d02020" stroke-width="1.55" stroke-linecap="butt"/>
<path d="M508.10,102.88 L506.10,97.08 L510.10,97.08 Z" fill="#d02020"/>
<line x1="508.10" y1="77.07" x2="508.10" y2="40.50" stroke="#000" stroke-width="1.4" stroke-linecap="butt"/>
<path d="M508.10,35.50 L506.10,41.30 L510.10,41.30 Z" fill="#000"/>
<line x1="545.40" y1="146.87" x2="545.40" y2="178.90" stroke="#d02020" stroke-width="1.55" stroke-linecap="butt"/>
<path d="M545.40,183.90 L543.40,178.10 L547.40,178.10 Z" fill="#d02020"/>
<line x1="545.40" y1="146.87" x2="545.40" y2="110.70" stroke="#000" stroke-width="1.4" stroke-linecap="butt"/>
<path d="M545.40,105.70 L543.40,111.50 L547.40,111.50 Z" fill="#000"/>
<line x1="545.40" y1="76.10" x2="545.40" y2="99.90" stroke="#d02020" stroke-width="1.55" stroke-linecap="butt"/>
<path d="M545.40,104.90 L543.40,99.10 L547.40,99.10 Z" fill="#d02020"/>
<line x1="545.40" y1="76.10" x2="545.40" y2="40.50" stroke="#000" stroke-width="1.4" stroke-linecap="butt"/>
<path d="M545.40,35.50 L543.40,41.30 L547.40,41.30 Z" fill="#000"/>
<text x="47.80" y="39.40" class="tk" text-anchor="end">1</text>
<text x="47.80" y="114.00" class="tk" text-anchor="end">0.5</text>
<text x="47.80" y="188.60" class="tk" text-anchor="end">0</text>
<text x="51.00" y="198.40" class="tk" text-anchor="middle">1</text>
<text x="88.30" y="198.40" class="tk" text-anchor="middle">2</text>
<text x="125.60" y="198.40" class="tk" text-anchor="middle">3</text>
<text x="162.90" y="198.40" class="tk" text-anchor="middle">4</text>
<text x="200.20" y="198.40" class="tk" text-anchor="middle">5</text>
<text x="47.80" y="231.30" class="tk" text-anchor="end">1</text>
<text x="47.80" y="305.90" class="tk" text-anchor="end">0.5</text>
<text x="47.80" y="380.50" class="tk" text-anchor="end">0</text>
<text x="51.00" y="390.30" class="tk" text-anchor="middle">1</text>
<text x="88.30" y="390.30" class="tk" text-anchor="middle">2</text>
<text x="125.60" y="390.30" class="tk" text-anchor="middle">3</text>
<text x="162.90" y="390.30" class="tk" text-anchor="middle">4</text>
<text x="200.20" y="390.30" class="tk" text-anchor="middle">5</text>
<text x="47.80" y="423.15" class="tk" text-anchor="end">1</text>
<text x="47.80" y="497.75" class="tk" text-anchor="end">0.5</text>
<text x="47.80" y="572.35" class="tk" text-anchor="end">0</text>
<text x="51.00" y="582.15" class="tk" text-anchor="middle">1</text>
<text x="88.30" y="582.15" class="tk" text-anchor="middle">2</text>
<text x="125.60" y="582.15" class="tk" text-anchor="middle">3</text>
<text x="162.90" y="582.15" class="tk" text-anchor="middle">4</text>
<text x="200.20" y="582.15" class="tk" text-anchor="middle">5</text>
<text x="239.30" y="39.40" class="tk" text-anchor="end">1</text>
<text x="239.30" y="114.00" class="tk" text-anchor="end">0.5</text>
<text x="239.30" y="188.60" class="tk" text-anchor="end">0</text>
<text x="242.50" y="198.40" class="tk" text-anchor="middle">1</text>
<text x="279.80" y="198.40" class="tk" text-anchor="middle">2</text>
<text x="317.10" y="198.40" class="tk" text-anchor="middle">3</text>
<text x="354.40" y="198.40" class="tk" text-anchor="middle">4</text>
<text x="391.70" y="198.40" class="tk" text-anchor="middle">5</text>
<text x="239.30" y="231.30" class="tk" text-anchor="end">1</text>
<text x="239.30" y="305.90" class="tk" text-anchor="end">0.5</text>
<text x="239.30" y="380.50" class="tk" text-anchor="end">0</text>
<text x="242.50" y="390.30" class="tk" text-anchor="middle">1</text>
<text x="279.80" y="390.30" class="tk" text-anchor="middle">2</text>
<text x="317.10" y="390.30" class="tk" text-anchor="middle">3</text>
<text x="354.40" y="390.30" class="tk" text-anchor="middle">4</text>
<text x="391.70" y="390.30" class="tk" text-anchor="middle">5</text>
<text x="239.30" y="423.15" class="tk" text-anchor="end">1</text>
<text x="239.30" y="497.75" class="tk" text-anchor="end">0.5</text>
<text x="239.30" y="572.35" class="tk" text-anchor="end">0</text>
<text x="242.50" y="582.15" class="tk" text-anchor="middle">1</text>
<text x="279.80" y="582.15" class="tk" text-anchor="middle">2</text>
<text x="317.10" y="582.15" class="tk" text-anchor="middle">3</text>
<text x="354.40" y="582.15" class="tk" text-anchor="middle">4</text>
<text x="391.70" y="582.15" class="tk" text-anchor="middle">5</text>
<text x="430.30" y="39.40" class="tk" text-anchor="end">1</text>
<text x="430.30" y="114.00" class="tk" text-anchor="end">0.5</text>
<text x="430.30" y="188.60" class="tk" text-anchor="end">0</text>
<text x="433.50" y="198.40" class="tk" text-anchor="middle">1</text>
<text x="470.80" y="198.40" class="tk" text-anchor="middle">2</text>
<text x="508.10" y="198.40" class="tk" text-anchor="middle">3</text>
<text x="545.40" y="198.40" class="tk" text-anchor="middle">4</text>
<text x="582.70" y="198.40" class="tk" text-anchor="middle">5</text>
<text x="430.30" y="231.30" class="tk" text-anchor="end">1</text>
<text x="430.30" y="305.90" class="tk" text-anchor="end">0.5</text>
<text x="430.30" y="380.50" class="tk" text-anchor="end">0</text>
<text x="433.50" y="390.30" class="tk" text-anchor="middle">1</text>
<text x="470.80" y="390.30" class="tk" text-anchor="middle">2</text>
<text x="508.10" y="390.30" class="tk" text-anchor="middle">3</text>
<text x="545.40" y="390.30" class="tk" text-anchor="middle">4</text>
<text x="582.70" y="390.30" class="tk" text-anchor="middle">5</text>
<text x="430.30" y="423.15" class="tk" text-anchor="end">1</text>
<text x="430.30" y="497.75" class="tk" text-anchor="end">0.5</text>
<text x="430.30" y="572.35" class="tk" text-anchor="end">0</text>
<text x="433.50" y="582.15" class="tk" text-anchor="middle">1</text>
<text x="470.80" y="582.15" class="tk" text-anchor="middle">2</text>
<text x="508.10" y="582.15" class="tk" text-anchor="middle">3</text>
<text x="545.40" y="582.15" class="tk" text-anchor="middle">4</text>
<text x="582.70" y="582.15" class="tk" text-anchor="middle">5</text>
<text x="35.00" y="26.50" class="lt">a</text>
<text x="226.50" y="26.50" class="lt">b</text>
<text x="417.50" y="26.50" class="lt">c</text>
<text x="35.00" y="218.40" class="lt">d</text>
<text x="226.50" y="218.40" class="lt">e</text>
<text x="417.50" y="218.40" class="lt">f</text>
<text x="35.00" y="410.25" class="lt">g</text>
<text x="226.50" y="410.25" class="lt">h</text>
<text x="417.50" y="410.25" class="lt">i</text>
<text x="125.60" y="9.3" class="tt" text-anchor="middle">scaled relatedness, <tspan font-style="italic">κ</tspan> = 0</text>
<text x="317.10" y="9.3" class="tt" text-anchor="middle">scaled relatedness, <tspan font-style="italic">κ</tspan> = 0.2</text>
<text x="508.10" y="9.3" class="tt" text-anchor="middle">scaled relatedness, <tspan font-style="italic">κ</tspan> = 0.8</text>
<text x="631.5" y="94.20" class="tt" text-anchor="middle">PGG</text>
<text x="631.5" y="110.70" class="tt" text-anchor="middle">multiplication</text>
<text x="587.00" y="130.40" class="tt">factor,</text>
<text x="624.40" y="130.40" class="tt" font-style="italic">r</text>
<text x="628.80" y="133.10" class="tt" font-size="8">1</text>
<line x1="639.40" y1="128.40" x2="647.90" y2="128.40" stroke="#111" stroke-width="0.85" stroke-linecap="butt"/>
<line x1="639.40" y1="125.90" x2="647.90" y2="125.90" stroke="#111" stroke-width="0.85" stroke-linecap="butt"/>
<text x="651.90" y="130.40" class="tt">1.25</text>
<text x="631.5" y="286.10" class="tt" text-anchor="middle">PGG</text>
<text x="631.5" y="302.60" class="tt" text-anchor="middle">multiplication</text>
<text x="590.35" y="322.30" class="tt">factor,</text>
<text x="627.75" y="322.30" class="tt" font-style="italic">r</text>
<text x="632.15" y="325.00" class="tt" font-size="8">1</text>
<line x1="642.75" y1="320.30" x2="651.25" y2="320.30" stroke="#111" stroke-width="0.85" stroke-linecap="butt"/>
<line x1="642.75" y1="317.80" x2="651.25" y2="317.80" stroke="#111" stroke-width="0.85" stroke-linecap="butt"/>
<text x="655.25" y="322.30" class="tt">2.5</text>
<text x="631.5" y="477.95" class="tt" text-anchor="middle">PGG</text>
<text x="631.5" y="494.45" class="tt" text-anchor="middle">multiplication</text>
<text x="590.35" y="514.15" class="tt">factor,</text>
<text x="627.75" y="514.15" class="tt" font-style="italic">r</text>
<text x="632.15" y="516.85" class="tt" font-size="8">1</text>
<line x1="642.75" y1="512.15" x2="651.25" y2="512.15" stroke="#111" stroke-width="0.85" stroke-linecap="butt"/>
<line x1="642.75" y1="509.65" x2="651.25" y2="509.65" stroke="#111" stroke-width="0.85" stroke-linecap="butt"/>
<text x="655.25" y="514.15" class="tt">4.5</text>
<text x="0" y="0" class="tt" text-anchor="middle" transform="translate(9.8,301.35) rotate(-90)">probability of playing <tspan font-style="italic">RC</tspan>, <tspan font-style="italic">z</tspan></text>
<text x="316" y="602.1" class="tt" text-anchor="middle">reward benefit, <tspan font-style="italic">r</tspan><tspan font-size="9" dy="2.4">2</tspan></text>
</svg>
</body></html>
